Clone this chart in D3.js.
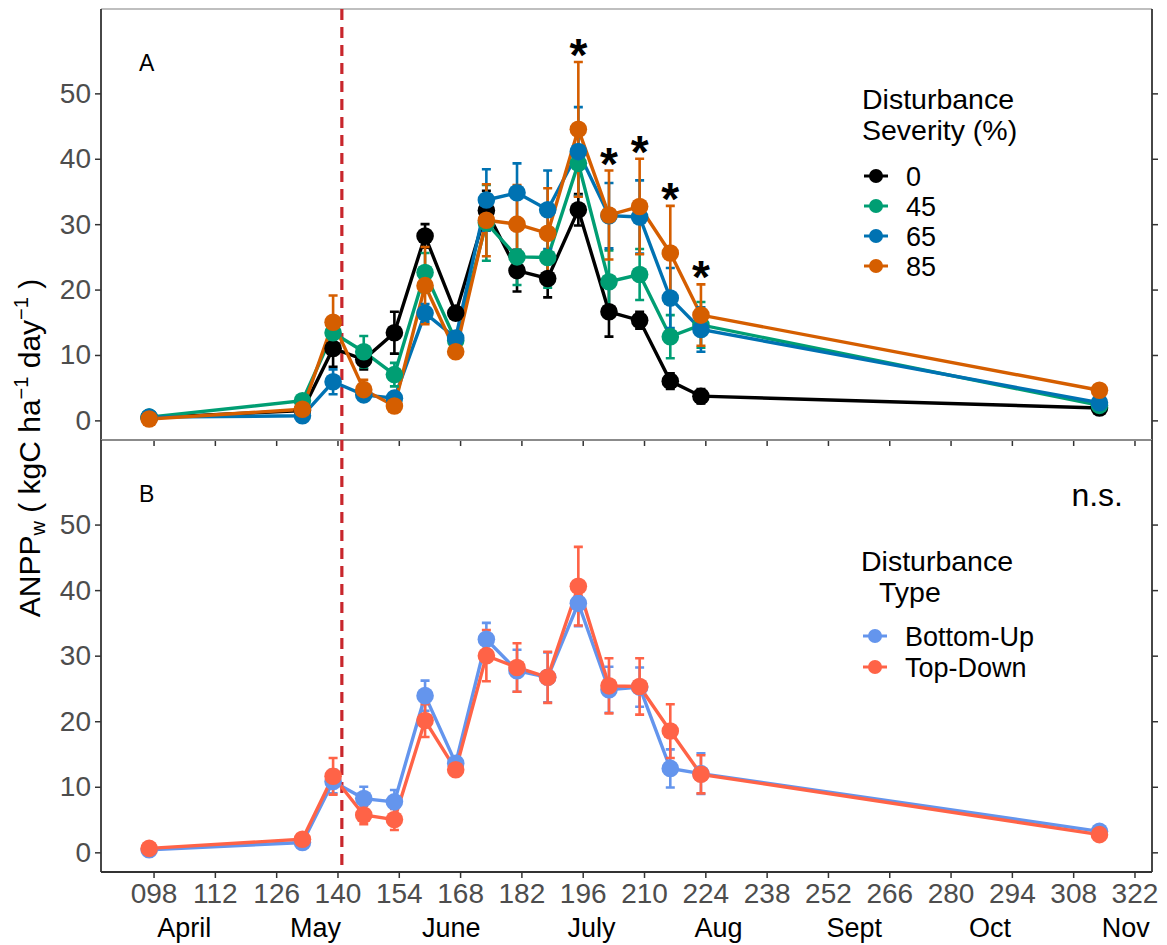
<!DOCTYPE html>
<html>
<head>
<meta charset="utf-8">
<script src="https://cdn.jsdelivr.net/npm/d3@7"></script>
<style>
  body { margin: 0; background: #fff; }
  text { font-family: "Liberation Sans", Arial, sans-serif; }
</style>
</head>
<body>
<div id="chart"></div>
<script>
// sampling days (day of year)
var days = [97, 132, 139, 146, 153, 160, 167, 174, 181, 188, 195, 202, 209, 216, 223, 314]

// panel A : disturbance severity (%)
var sev0    = [0.4, 1.5, 11.0, 9.3, 13.4, 28.2, 16.4, 32.1, 22.9, 21.7, 32.2, 16.6, 15.3, 6.0, 3.7, 1.9]
var sev0Se  = [0.2, 0.3, 2.8, 1.5, 3.2, 1.8, 0.9, 3.0, 3.2, 2.9, 2.4, 3.8, 1.3, 1.2, 1.1, 0.3]
var sev45   = [0.5, 3.0, 13.4, 10.5, 7.0, 22.6, 12.2, 30.2, 25.0, 24.9, 39.3, 21.2, 22.3, 12.8, 14.6, 2.3]
var sev45Se = [0.2, 0.4, 1.8, 2.4, 1.8, 3.0, 1.0, 5.8, 4.3, 4.6, 5.0, 4.8, 3.9, 3.3, 3.5, 0.3]
var sev65   = [0.5, 0.7, 5.9, 3.9, 3.4, 16.4, 12.6, 33.7, 34.8, 32.2, 41.1, 31.3, 31.1, 18.7, 13.9, 2.7]
var sev65Se = [0.2, 0.3, 1.9, 0.8, 0.8, 1.4, 1.0, 4.7, 4.5, 6.0, 6.8, 5.0, 5.6, 4.6, 3.4, 0.3]
var sev85   = [0.2, 1.7, 15.0, 4.7, 2.2, 20.6, 10.5, 30.6, 30.0, 28.6, 44.5, 31.4, 32.7, 25.6, 16.1, 4.6]
var sev85Se = [0.2, 0.3, 4.1, 1.5, 0.6, 5.9, 0.8, 5.5, 6.0, 6.9, 10.3, 6.8, 7.3, 7.2, 4.7, 0.3]
var sevLabels = ["0", "45", "65", "85"]
var sevColors = ["#000000", "#009E73", "#0072B2", "#D55E00"]
var starDays = [195, 202, 209, 216, 223]

// panel B : disturbance type
var bottomUp   = [0.4, 1.5, 10.8, 8.2, 7.7, 23.9, 13.6, 32.5, 27.7, 26.7, 38.0, 24.8, 25.2, 12.8, 12.0, 3.2]
var bottomUpSe = [0.2, 0.3, 1.8, 1.8, 1.8, 2.3, 1.0, 2.5, 3.2, 3.8, 3.5, 3.5, 3.0, 2.9, 3.1, 0.3]
var topDown    = [0.6, 2.0, 11.6, 5.7, 5.0, 20.1, 12.6, 30.0, 28.2, 26.7, 40.6, 25.4, 25.3, 18.5, 11.9, 2.7]
var topDownSe  = [0.3, 0.4, 2.8, 1.4, 1.6, 2.5, 0.9, 3.9, 3.7, 3.9, 6.0, 4.2, 4.3, 4.1, 2.9, 0.3]
var typeLabels = ["Bottom-Up", "Top-Down"]
var typeColors = ["#6495ED", "#FF6347"]

// axes
var xTicks = [98, 112, 126, 140, 154, 168, 182, 196, 210, 224, 238, 252, 266, 280, 294, 308, 322]
var yTicks = [0, 10, 20, 30, 40, 50]
var monthNames = ["April", "May", "June", "July", "Aug", "Sept", "Oct", "Nov"]
var monthDays  = [105, 135, 166, 198, 227, 258, 289, 320]
var disturbDay = 141

var W = 1167, H = 945
var left = 101, right = 1152

var svg = d3.select("#chart").append("svg")
    .attr("width", W)
    .attr("height", H)
svg.append("rect").attr("width", W).attr("height", H).attr("fill", "#fff")

var x = d3.scaleLinear().domain([86, 326]).range([left, right])

function makeSeries(vals, se, color, label) {
  return { color: color, label: label,
    pts: days.map((d, i) => ({ day: d, v: vals[i], lo: vals[i] - se[i], hi: vals[i] + se[i] })) }
}

function drawPanel(top, bottom, series, showXLabels) { //{{{
  var y = d3.scaleLinear().domain([-3, 62.9]).range([bottom, top])
  var g = svg.append("g")

  // frame: top grey line, right axis
  g.append("line").attr("x1", left).attr("x2", right).attr("y1", top).attr("y2", top)
    .attr("stroke", "#aaa").attr("stroke-width", 1.5)

  g.append("g")
    .attr("transform", "translate(" + left + ",0)")
    .call(d3.axisLeft(y).tickValues(yTicks).tickSize(6).tickPadding(4))
    .call(a => a.select(".domain").attr("d", "M0," + top + "V" + bottom))
  g.append("g")
    .attr("transform", "translate(" + right + ",0)")
    .call(d3.axisRight(y).tickValues(yTicks).tickSize(6).tickFormat(""))
    .call(a => a.select(".domain").attr("d", "M0," + top + "V" + bottom))
  g.append("g")
    .attr("transform", "translate(0," + bottom + ")")
    .call(d3.axisBottom(x).tickValues(xTicks).tickSize(6).tickPadding(5)
      .tickFormat(showXLabels ? d3.format("03d") : ""))
    .call(a => a.select(".domain").attr("d", "M" + left + ",0H" + right))

  g.selectAll(".domain").attr("stroke", "#333").attr("stroke-width", 1.8)
  g.selectAll(".tick line").attr("stroke", "#333").attr("stroke-width", 1.5)
  g.selectAll(".tick text").attr("fill", "#4D4D4D").attr("font-size", 28)
    .attr("font-family", "Liberation Sans, Arial, sans-serif")

  // disturbance date
  g.append("line")
    .attr("x1", x(disturbDay)).attr("x2", x(disturbDay))
    .attr("y1", top).attr("y2", bottom)
    .attr("stroke", "#C8262C").attr("stroke-width", 3.2)
    .attr("stroke-dasharray", "11,7")

  var line = d3.line().x(d => x(d.day)).y(d => y(d.v))

  series.forEach(s => {
    g.append("path").datum(s.pts)
      .attr("d", line).attr("fill", "none")
      .attr("stroke", s.color).attr("stroke-width", 3.4)
  })
  series.forEach(s => {
    var eb = g.append("g").attr("stroke", s.color).attr("stroke-width", 2.6)
    eb.selectAll("path").data(s.pts).enter().append("path")
      .attr("fill", "none")
      .attr("d", d => {
        var cx = x(d.day)
        return "M" + (cx - 4.5) + "," + y(d.hi) + "H" + (cx + 4.5) +
          "M" + cx + "," + y(d.hi) + "V" + y(d.lo) +
          "M" + (cx - 4.5) + "," + y(d.lo) + "H" + (cx + 4.5)
      })
  })
  series.forEach(s => {
    g.selectAll(null).data(s.pts).enter().append("circle")
      .attr("cx", d => x(d.day)).attr("cy", d => y(d.v))
      .attr("r", 8.8).attr("fill", s.color)
  })
  return { g: g, y: y }
} //}}}

// panel A
var serA = [makeSeries(sev0, sev0Se, sevColors[0], sevLabels[0]),
            makeSeries(sev45, sev45Se, sevColors[1], sevLabels[1]),
            makeSeries(sev65, sev65Se, sevColors[2], sevLabels[2]),
            makeSeries(sev85, sev85Se, sevColors[3], sevLabels[3])]
var pA = drawPanel(9, 440, serA, false)

// significance stars above the highest error bar
starDays.forEach(sd => {
  var i = days.indexOf(sd)
  var top = d3.max(serA, s => s.pts[i].hi)
  pA.g.append("text")
    .attr("x", x(sd)).attr("y", pA.y(top) + 9)
    .attr("text-anchor", "middle")
    .attr("font-size", 46).attr("font-weight", "bold")
    .text("*")
})

pA.g.append("text").attr("x", 139).attr("y", 71).attr("font-size", 23).text("A")

// panel B
var serB = [makeSeries(bottomUp, bottomUpSe, typeColors[0], typeLabels[0]),
            makeSeries(topDown, topDownSe, typeColors[1], typeLabels[1])]
var pB = drawPanel(440, 872, serB, true)
pB.g.append("text").attr("x", 139).attr("y", 502).attr("font-size", 23).text("B")
pB.g.append("text").attr("x", 1123).attr("y", 506).attr("text-anchor", "end")
  .attr("font-size", 32).text("n.s.")

// month labels
svg.selectAll(".month").data(monthNames).enter().append("text")
  .attr("class", "month")
  .attr("x", (d, i) => x(monthDays[i])).attr("y", 937)
  .attr("text-anchor", "middle").attr("font-size", 27)
  .text(d => d)

// y axis title
var yt = svg.append("text")
  .attr("transform", "translate(40,448) rotate(-90)")
  .attr("text-anchor", "middle").attr("font-size", 30)
yt.append("tspan").text("ANPP")
yt.append("tspan").attr("font-size", 20).attr("dy", 5).text("w")
yt.append("tspan").attr("dy", -5).text(" ( kgC ha")
yt.append("tspan").attr("font-size", 20).attr("dy", -12).text("\u22121")
yt.append("tspan").attr("dy", 12).text(" day")
yt.append("tspan").attr("font-size", 20).attr("dy", -12).text("\u22121")
yt.append("tspan").attr("dy", 12).text(" )")

// legends
function drawLegend(x0, titleLines, titleY, labels, colors, itemY, step) {
  var lg = svg.append("g")
  titleLines.forEach((t, i) => {
    lg.append("text").attr("x", x0 + t.dx).attr("y", titleY + i * 31)
      .attr("font-size", 28.5).text(t.text)
  })
  labels.forEach((l, i) => {
    var cy = itemY + i * step
    lg.append("line").attr("x1", x0 + 2).attr("x2", x0 + 26).attr("y1", cy).attr("y2", cy)
      .attr("stroke", colors[i]).attr("stroke-width", 3)
    lg.append("circle").attr("cx", x0 + 14).attr("cy", cy).attr("r", 7).attr("fill", colors[i])
    lg.append("text").attr("x", x0 + 44).attr("y", cy + 9.5).attr("font-size", 27).text(l)
  })
}
drawLegend(862, [{ text: "Disturbance", dx: 0 }, { text: "Severity (%)", dx: 0 }], 109,
  sevLabels, sevColors, 176, 30)
drawLegend(861, [{ text: "Disturbance", dx: 0 }, { text: "Type", dx: 18 }], 571,
  typeLabels, typeColors, 636, 31)
</script>
</body>
</html>
